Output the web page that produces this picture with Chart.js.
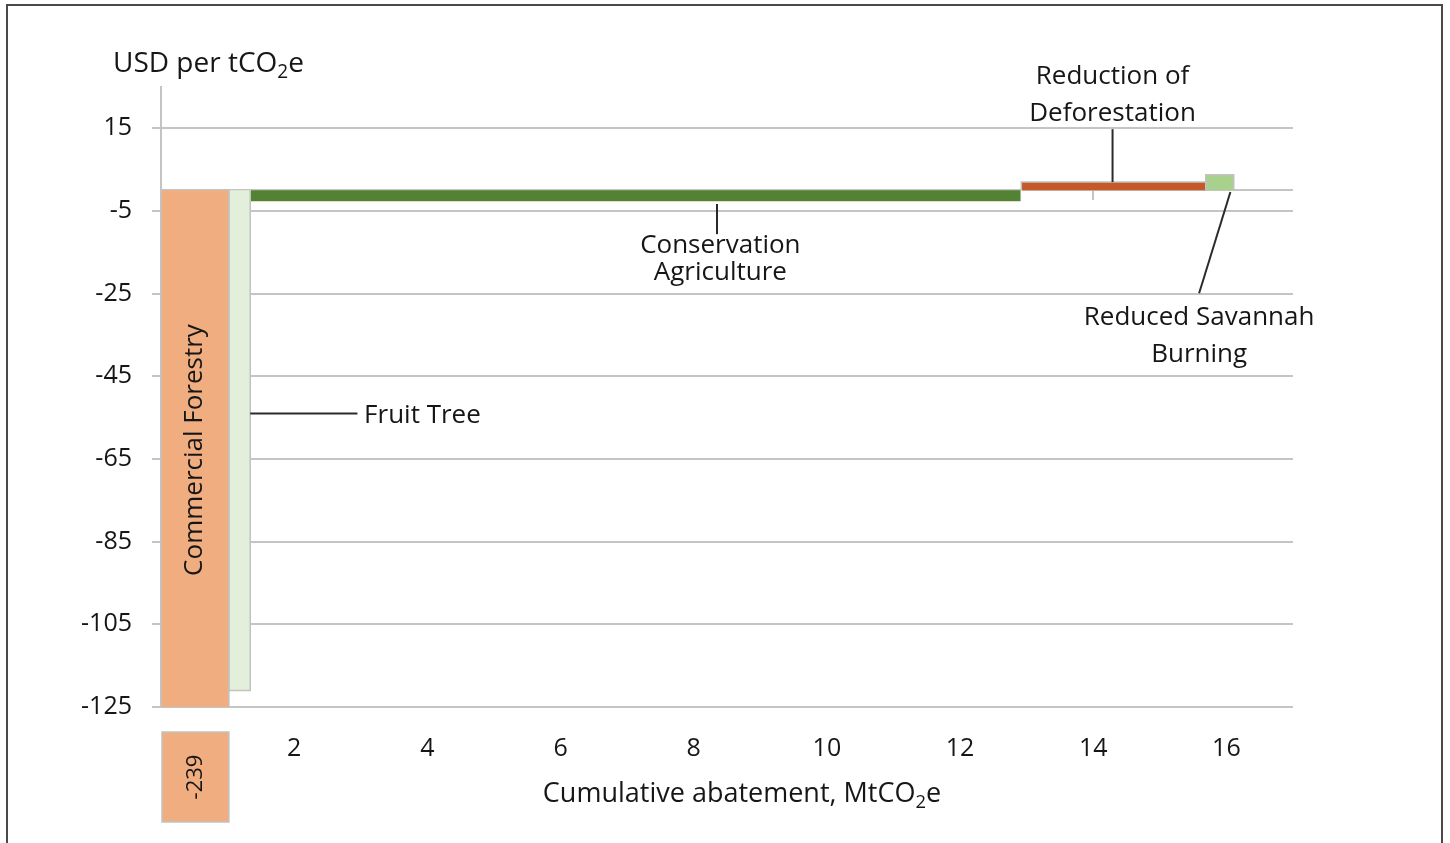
<!DOCTYPE html>
<html><head><meta charset="utf-8">
<script src="https://cdn.jsdelivr.net/npm/chart.js@4.4.1/dist/chart.umd.min.js"></script>
<style>html,body{margin:0;padding:0;background:#fff}#wrap{width:1450px;height:843px;position:relative}</style>
</head><body><div id="wrap"><canvas id="c" width="1450" height="843"></canvas></div>
<script>
// ---- data ----
const categories = ["Commercial Forestry", "Fruit Tree", "Conservation Agriculture", "Reduction of Deforestation", "Reduced Savannah Burning"];
const widths = [1.02, 0.32, 11.58, 2.77, 0.42];          // MtCO2e abated per measure
const costs = [-239, -121, -2.8, 2, 3.8];                 // USD per tCO2e
const barColors = ["#EFAD80", "#E2EFDA", "#548235", "#C55A28", "#A9D18E"];
const xTickValues = [2, 4, 6, 8, 10, 12, 14, 16];
const yTickValues = [15, -5, -25, -45, -65, -85, -105, -125];
const zeroAxisTicks = [14];

const FONT = '"Open Sans", Lato, sans-serif';
const TXT = '#161616';
const GRID = '#c4c4c4';
const LBL = 26;

// build rectangles from cumulative widths
const starts = [];
let acc = 0;
for (const w of widths) { starts.push(acc); acc += w; }
const datasets = categories.map((name, i) => {
  const x0 = starts[i], x1 = starts[i] + widths[i], v = costs[i];
  return {
    label: name,
    data: [{x: x0, y: 0}, {x: x0, y: v}, {x: x1, y: v}, {x: x1, y: 0}],
    showLine: true, tension: 0, pointRadius: 0,
    borderColor: i === 2 ? '#ffffff' : '#c2c2c2', borderWidth: 1.5,
    backgroundColor: barColors[i], fill: 'origin'
  };
});

// annotation callouts (data coordinates)
const callouts = [
  {line: [[starts[1] + widths[1], -54], [2.95, -54]], text: ["Fruit Tree"], at: [3.05, -54.4], align: 'left', lh: 0},
  {line: [[8.35, -3.3], [8.35, -10.6]], text: ["Conservation", "Agriculture"], at: [8.4, -13.3], align: 'center', lh: 27},
  {line: [[14.29, 2], [14.29, 14.8]], text: ["Reduction of", "Deforestation"], at: [14.29, 27.6], align: 'center', lh: 37},
  {line: [[16.06, -0.4], [15.59, -24.9]], text: ["Reduced Savannah", "Burning"], at: [15.59, -30.7], align: 'center', lh: 37}
];

function drawSubText(ctx, parts, x, y, size, align) {
  let total = 0;
  parts.forEach(p => { ctx.font = (p[1] ? size * 0.68 : size) + 'px ' + FONT; total += ctx.measureText(p[0]).width; });
  let cx = align === 'center' ? x - total / 2 : x;
  ctx.textAlign = 'left';
  ctx.textBaseline = 'alphabetic';
  parts.forEach(p => {
    ctx.font = (p[1] ? size * 0.68 : size) + 'px ' + FONT;
    ctx.fillText(p[0], cx, p[1] ? y + size * 0.22 : y);
    cx += ctx.measureText(p[0]).width;
  });
}

const decor = {
  id: 'decor',
  beforeDatasetsDraw(chart) {
    const {ctx, scales: {x, y}, chartArea} = chart;
    ctx.save();
    ctx.strokeStyle = GRID; ctx.lineWidth = 2;
    const y0 = Math.round(y.getPixelForValue(0));
    ctx.beginPath(); ctx.moveTo(chartArea.left, y0); ctx.lineTo(chartArea.right, y0); ctx.stroke();
    zeroAxisTicks.forEach(t => {
      const px = Math.round(x.getPixelForValue(t));
      ctx.beginPath(); ctx.moveTo(px, y0); ctx.lineTo(px, y0 + 10); ctx.stroke();
    });
    ctx.restore();
  },
  afterDraw(chart) {
    const {ctx, scales: {x, y}, chartArea} = chart;
    ctx.save();
    // frame
    ctx.strokeStyle = '#4a4a4a'; ctx.lineWidth = 2;
    ctx.beginPath(); ctx.moveTo(7, 843); ctx.lineTo(7, 5); ctx.lineTo(1442, 5); ctx.lineTo(1442, 843); ctx.stroke();

    // callouts
    ctx.fillStyle = TXT;
    callouts.forEach(c => {
      ctx.strokeStyle = '#2a2a2a'; ctx.lineWidth = 2;
      ctx.beginPath();
      ctx.moveTo(x.getPixelForValue(c.line[0][0]), y.getPixelForValue(c.line[0][1]));
      ctx.lineTo(x.getPixelForValue(c.line[1][0]), y.getPixelForValue(c.line[1][1]));
      ctx.stroke();
      ctx.font = LBL + 'px ' + FONT;
      ctx.textAlign = c.align; ctx.textBaseline = 'middle';
      const px = x.getPixelForValue(c.at[0]);
      const py = y.getPixelForValue(c.at[1]);
      c.text.forEach((t, k) => ctx.fillText(t, px, py + k * c.lh));
    });

    // rotated label in the commercial forestry bar
    const cfx = (x.getPixelForValue(starts[0]) + x.getPixelForValue(starts[0] + widths[0])) / 2;
    ctx.save();
    ctx.translate(cfx, 450);
    ctx.rotate(-Math.PI / 2);
    ctx.font = LBL + 'px ' + FONT; ctx.textAlign = 'center'; ctx.textBaseline = 'middle';
    ctx.fillText(categories[0], 0, 0);
    ctx.restore();

    // off-scale value box
    const bx0 = x.getPixelForValue(starts[0]) + 1, bx1 = x.getPixelForValue(starts[0] + widths[0]);
    const by0 = chartArea.bottom + 25, by1 = chartArea.bottom + 115;
    ctx.fillStyle = barColors[0]; ctx.fillRect(bx0, by0, bx1 - bx0, by1 - by0);
    ctx.strokeStyle = '#c2c2c2'; ctx.lineWidth = 1.5; ctx.strokeRect(bx0, by0, bx1 - bx0, by1 - by0);
    ctx.save();
    ctx.translate((bx0 + bx1) / 2, (by0 + by1) / 2);
    ctx.rotate(-Math.PI / 2);
    ctx.fillStyle = TXT; ctx.font = '22px ' + FONT; ctx.textAlign = 'center'; ctx.textBaseline = 'middle';
    ctx.fillText(String(costs[0]), 0, 0);
    ctx.restore();

    // axis titles with subscripts
    ctx.fillStyle = TXT;
    drawSubText(ctx, [["USD per tCO", false], ["2", true], ["e", false]], 113, 72, 28, 'left');
    drawSubText(ctx, [["Cumulative abatement, MtCO", false], ["2", true], ["e", false]], 742, 802, 27, 'center');
    ctx.restore();
  }
};

new Chart(document.getElementById('c'), {
  type: 'scatter',
  data: {datasets},
  options: {
    responsive: false, animation: false, devicePixelRatio: 1,
    layout: {padding: {left: 0, right: 157, top: 87, bottom: 0}},
    plugins: {legend: {display: false}, tooltip: {enabled: false}},
    scales: {
      x: {
        type: 'linear', min: 0, max: 17,
        afterBuildTicks: s => { s.ticks = xTickValues.map(v => ({value: v})); },
        afterFit: s => { s.height = 136; },
        grid: {display: false, drawTicks: false, tickLength: 0},
        border: {display: false},
        ticks: {color: TXT, font: {family: FONT, size: 25}, padding: 27, maxRotation: 0}
      },
      y: {
        type: 'linear', min: -125, max: 25,
        afterBuildTicks: s => { s.ticks = yTickValues.map(v => ({value: v})); },
        afterFit: s => { s.width = 161; },
        grid: {color: GRID, lineWidth: 2, tickLength: 9, drawTicks: true},
        border: {color: GRID, width: 2},
        ticks: {color: TXT, font: {family: FONT, size: 25}, padding: 20}
      }
    }
  },
  plugins: [decor]
});
</script></body></html>
